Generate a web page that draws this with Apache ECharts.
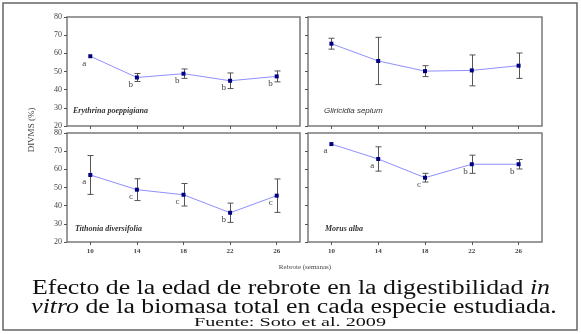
<!DOCTYPE html>
<html><head><meta charset="utf-8">
<script src="https://cdn.jsdelivr.net/npm/echarts@6/dist/echarts.min.js"></script>
<style>html,body{margin:0;padding:0;background:#fff}#c{width:581px;height:334px}</style>
</head><body><div id="c"></div>
<script>
const weeks = [10, 14, 18, 22, 26];
const yTicks = [20, 30, 40, 50, 60, 70, 80];

const eryMean = [58.4, 46.7, 48.8, 44.9, 47.3];
const eryErr  = [0, 2.2, 2.6, 4.3, 3.0];
const eryLetters = ['a', 'b', 'b', 'b', 'b'];

const gliMean = [65.3, 55.8, 50.2, 50.6, 53.2];
const gliErr  = [3.0, 13.0, 3.0, 8.5, 7.0];
const gliLetters = ['', '', '', '', ''];

const titMean = [56.9, 48.8, 46.0, 36.1, 45.5];
const titErr  = [10.7, 6.0, 6.2, 5.3, 9.2];
const titLetters = ['a', 'c', 'c', 'b', 'c'];

const morMean = [73.9, 65.7, 55.4, 62.8, 62.8];
const morErr  = [0, 6.7, 2.4, 5.0, 2.6];
const morLetters = ['a', 'a', 'c', 'b', 'b'];

const panels = [
  {name: 'Erythrina poeppigiana', mean: eryMean, err: eryErr, letters: eryLetters, font: 'italic bold 8px "Liberation Serif"'},
  {name: 'Gliricidia sepium', mean: gliMean, err: gliErr, letters: gliLetters, font: 'italic 8px "Liberation Sans"'},
  {name: 'Tithonia diversifolia', mean: titMean, err: titErr, letters: titLetters, font: 'italic bold 8px "Liberation Serif"'},
  {name: 'Morus alba', mean: morMean, err: morErr, letters: morLetters, font: 'italic bold 8px "Liberation Serif"'}
];

const gridPos = [
  {left: 67, top: 17, width: 233, height: 109},
  {left: 308, top: 17, width: 234, height: 109},
  {left: 67, top: 133, width: 233, height: 109},
  {left: 308, top: 133, width: 234, height: 109}
];

const chart = echarts.init(document.getElementById('c'), null, {renderer: 'canvas'});
const grids = [], xAxes = [], yAxes = [], series = [];
const axisGray = '#7a7a7a';

panels.forEach((p, i) => {
  grids.push(Object.assign({show: true, borderColor: axisGray, borderWidth: 1.5, backgroundColor: '#fff'}, gridPos[i]));
  xAxes.push({
    type: 'value', gridIndex: i, min: 8, max: 28,
    axisLine: {show: false},
    axisTick: {show: true, customValues: weeks, length: 3, inside: false, lineStyle: {color: '#555'}},
    axisLabel: {show: i >= 2, customValues: weeks, fontFamily: 'Liberation Serif', fontSize: 7, fontWeight: 'bold', color: '#444', margin: 6},
    splitLine: {show: false}
  });
  yAxes.push({
    type: 'value', gridIndex: i, min: 20, max: 80, interval: 10,
    axisLine: {show: false},
    axisTick: {show: true, length: 3, inside: false, lineStyle: {color: '#555'}},
    axisLabel: {show: i % 2 === 0, fontFamily: 'Liberation Serif', fontSize: 8, color: '#444', margin: 5},
    splitLine: {show: false}
  });
  const lineData = weeks.map((w, k) => [w, p.mean[k]]);
  series.push({
    type: 'line', xAxisIndex: i, yAxisIndex: i, data: lineData,
    lineStyle: {color: '#8f8fff', width: 1}, symbol: 'rect', symbolSize: 4,
    itemStyle: {color: '#000080'}, z: 3
  });
  series.push({
    type: 'custom', xAxisIndex: i, yAxisIndex: i,
    data: weeks.map((w, k) => [w, p.mean[k] - p.err[k], p.mean[k] + p.err[k]]),
    renderItem: function (params, api) {
      const lo = api.coord([api.value(0), api.value(1)]);
      const hi = api.coord([api.value(0), api.value(2)]);
      if (Math.abs(lo[1] - hi[1]) < 1) return null;
      const x = Math.round(lo[0]) + 0.5, c = 3;
      const st = {stroke: '#555', lineWidth: 1};
      return {type: 'group', children: [
        {type: 'line', shape: {x1: x, y1: lo[1], x2: x, y2: hi[1]}, style: st},
        {type: 'line', shape: {x1: x - c, y1: lo[1], x2: x + c, y2: lo[1]}, style: st},
        {type: 'line', shape: {x1: x - c, y1: hi[1], x2: x + c, y2: hi[1]}, style: st}
      ]};
    }, z: 2
  });
  series.push({
    type: 'custom', xAxisIndex: i, yAxisIndex: i,
    data: weeks.map((w, k) => [w, p.mean[k], k]),
    renderItem: function (params, api) {
      const pt = api.coord([api.value(0), api.value(1)]);
      const t = p.letters[api.value(2)];
      if (!t) return null;
      return {type: 'text', x: pt[0] - 4, y: pt[1] + 7,
        style: {text: t, fill: '#444', font: '9px "Liberation Serif"', align: 'right', verticalAlign: 'middle'}};
    }, z: 4
  });
});

const graphics = [
  {type: 'rect', shape: {x: 3, y: 3, width: 574, height: 327}, style: {fill: 'none', stroke: '#666', lineWidth: 1.5}, z: -1},
  {type: 'text', x: 32, y: 130, rotation: Math.PI / 2, style: {text: 'DIVMS (%)', font: '9px "Liberation Serif"', fill: '#444', align: 'center', verticalAlign: 'middle'}},
  {type: 'text', x: 305, y: 267, style: {text: 'Rebrote (semanas)', font: '7px "Liberation Serif"', fill: '#444', align: 'center', verticalAlign: 'middle'}},
  {type: 'text', x: 291, y: 289, scaleX: 1.29, style: {text: 'Efecto de la edad de rebrote en la digestibilidad {i|in}', font: '20px "Liberation Serif"', fill: '#111', align: 'center', verticalAlign: 'middle', rich: {i: {fontStyle: 'italic', fontSize: 20, fontFamily: 'Liberation Serif'}}}},
  {type: 'text', x: 294, y: 307.5, scaleX: 1.29, style: {text: '{i|vitro} de la biomasa total en cada especie estudiada.', font: '20px "Liberation Serif"', fill: '#111', align: 'center', verticalAlign: 'middle', rich: {i: {fontStyle: 'italic', fontSize: 20, fontFamily: 'Liberation Serif'}}}},
  {type: 'text', x: 290, y: 322.5, scaleX: 1.55, style: {text: 'Fuente: Soto et al. 2009', font: '13px "Liberation Serif"', fill: '#111', align: 'center', verticalAlign: 'middle'}}
];
const labelPos = [[73, 111], [324, 111], [75, 229], [325, 229]];
panels.forEach((p, i) => {
  graphics.push({type: 'text', x: labelPos[i][0], y: labelPos[i][1], z: 10,
    style: {text: p.name, font: p.font, fill: '#333', align: 'left', verticalAlign: 'middle'}});
});

chart.setOption({
  animation: false,
  grid: grids, xAxis: xAxes, yAxis: yAxes, series: series, graphic: graphics
});
</script></body></html>
